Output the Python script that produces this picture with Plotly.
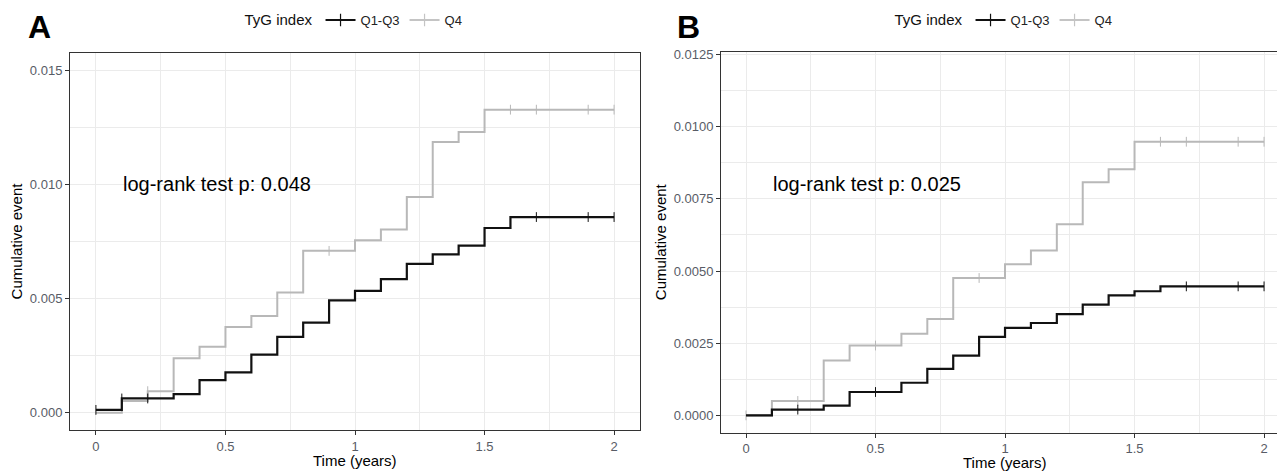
import plotly.graph_objects as go

# ---------------- data ----------------
# Panel A
a_q13_t = [0.0, 0.1, 0.3, 0.4, 0.5, 0.6, 0.7, 0.8, 0.9, 1.0, 1.1, 1.2, 1.3, 1.4, 1.5, 1.6, 2.0]
a_q13_y = [0.00013, 0.00063, 0.00082, 0.00143, 0.00177, 0.00255, 0.00333, 0.00395, 0.00492,
           0.00534, 0.00585, 0.00652, 0.00694, 0.00732, 0.00809, 0.00857, 0.00857]
a_q4_t = [0.0, 0.1, 0.2, 0.3, 0.4, 0.5, 0.6, 0.7, 0.8, 1.0, 1.1, 1.2, 1.3, 1.4, 1.5, 2.0]
a_q4_y = [0.0, 0.00052, 0.00095, 0.00239, 0.00289, 0.00376, 0.00424, 0.00527, 0.00709,
          0.00755, 0.00803, 0.00945, 0.01185, 0.01229, 0.01327, 0.01327]
a_q13_cens_t = [0.0, 0.1, 0.2, 1.7, 1.9, 2.0]
a_q13_cens_y = [0.00013, 0.00063, 0.00063, 0.00857, 0.00857, 0.00857]
a_q4_cens_t = [0.2, 0.9, 1.6, 1.7, 1.9, 2.0]
a_q4_cens_y = [0.00095, 0.00709, 0.01327, 0.01327, 0.01327, 0.01327]

# Panel B
b_q13_t = [0.0, 0.1, 0.3, 0.4, 0.6, 0.7, 0.8, 0.9, 1.0, 1.1, 1.2, 1.3, 1.4, 1.5, 1.6, 2.0]
b_q13_y = [0.0, 0.0002, 0.00034, 0.00081, 0.00113, 0.00161, 0.00207, 0.00272, 0.00303,
           0.0032, 0.00351, 0.00384, 0.00416, 0.0043, 0.00447, 0.00447]
b_q4_t = [0.0, 0.1, 0.3, 0.4, 0.6, 0.7, 0.8, 1.0, 1.1, 1.2, 1.3, 1.4, 1.5, 2.0]
b_q4_y = [0.0, 0.0005, 0.0019, 0.00242, 0.00283, 0.00334, 0.00476, 0.00524, 0.00571,
          0.00662, 0.00808, 0.00853, 0.00948, 0.00948]
b_q13_cens_t = [0.2, 0.5, 1.7, 1.9, 2.0]
b_q13_cens_y = [0.0002, 0.00081, 0.00447, 0.00447, 0.00447]
b_q4_cens_t = [0.0, 0.2, 0.5, 0.9, 1.6, 1.7, 1.9, 2.0]
b_q4_cens_y = [0.0, 0.0005, 0.00242, 0.00476, 0.00948, 0.00948, 0.00948, 0.00948]

group_names = ["Q1-Q3", "Q4"]
legend_title = "TyG index"
panel_labels = ["A", "B"]
pvalue_texts = ["log-rank test p: 0.048", "log-rank test p: 0.025"]
x_title = "Time (years)"
y_title = "Cumulative event"
x_ticks = [0, 0.5, 1, 1.5, 2]
x_ticklabels = ["0", "0.5", "1", "1.5", "2"]

# ---------------- style ----------------
W, H = 1277, 471
BLACK = "#111111"
GREY = "#B8B8B8"
GRID = "#EBEBEB"
TICKCOL = "#585C66"
AXCOL = "#333333"
FONT = "Arial, Liberation Sans, sans-serif"

fig = go.Figure()

def add_panel(xa, ya, legend, t13, y13, t4, y4, c13t, c13y, c4t, c4y):
    fig.add_trace(go.Scatter(x=t4, y=y4, mode="lines", line=dict(color=GREY, width=2, shape="hv"),
                             xaxis=xa, yaxis=ya, showlegend=False, hoverinfo="skip"))
    fig.add_trace(go.Scatter(x=c4t, y=c4y, mode="markers",
                             marker=dict(symbol="line-ns", size=7, line=dict(color=GREY, width=1)),
                             xaxis=xa, yaxis=ya, showlegend=False, hoverinfo="skip"))
    fig.add_trace(go.Scatter(x=t13, y=y13, mode="lines", line=dict(color=BLACK, width=2.2, shape="hv"),
                             xaxis=xa, yaxis=ya, showlegend=False, hoverinfo="skip"))
    fig.add_trace(go.Scatter(x=c13t, y=c13y, mode="markers",
                             marker=dict(symbol="line-ns", size=7, line=dict(color=BLACK, width=1)),
                             xaxis=xa, yaxis=ya, showlegend=False, hoverinfo="skip"))
    for name, col in zip(group_names, [BLACK, "#C4C4C4"]):
        fig.add_trace(go.Scatter(x=[None], y=[None], mode="lines+markers", name=name,
                                 line=dict(color=col, width=2),
                                 marker=dict(symbol="line-ns", size=9, line=dict(color=col, width=1.2)),
                                 xaxis=xa, yaxis=ya, legend=legend, showlegend=True))

add_panel("x", "y", "legend", a_q13_t, a_q13_y, a_q4_t, a_q4_y,
          a_q13_cens_t, a_q13_cens_y, a_q4_cens_t, a_q4_cens_y)
add_panel("x2", "y2", "legend2", b_q13_t, b_q13_y, b_q4_t, b_q4_y,
          b_q13_cens_t, b_q13_cens_y, b_q4_cens_t, b_q4_cens_y)

def xaxis_cfg(domain, rng):
    return dict(domain=domain, range=rng, tickvals=x_ticks, ticktext=x_ticklabels,
                showgrid=True, gridcolor=GRID, gridwidth=1.2, zeroline=False,
                minor=dict(tickvals=[0.25, 0.75, 1.25, 1.75], showgrid=True, gridcolor=GRID, gridwidth=0.8, ticks=""),
                showline=True, linecolor=AXCOL, linewidth=1, mirror=True,
                ticks="outside", ticklen=4, tickcolor=AXCOL, tickwidth=1,
                tickfont=dict(family=FONT, size=13, color=TICKCOL))

def yaxis_cfg(domain, rng, dtick, minor, fmt, anchor, mirror):
    return dict(domain=domain, range=rng, dtick=dtick, tick0=0, tickformat=fmt,
                showgrid=True, gridcolor=GRID, gridwidth=1.2, zeroline=False,
                minor=dict(dtick=minor, tick0=0, showgrid=True, gridcolor=GRID, gridwidth=0.8, ticks=""),
                showline=True, linecolor=AXCOL, linewidth=1, mirror=mirror,
                ticks="outside", ticklen=4, tickcolor=AXCOL, tickwidth=1, anchor=anchor,
                tickfont=dict(family=FONT, size=13, color=TICKCOL),
                title=dict(text=y_title, font=dict(family=FONT, size=15, color="#000"), standoff=3))

legend_common = dict(orientation="h", yanchor="middle", xanchor="center",
                     font=dict(family=FONT, size=13, color="#222"), bgcolor="rgba(0,0,0,0)",
                     itemwidth=30, tracegroupgap=0)

fig.update_layout(
    width=W, height=H, margin=dict(l=0, r=0, t=0, b=0, autoexpand=False),
    paper_bgcolor="white", plot_bgcolor="white",
    font=dict(family=FONT),
    xaxis=xaxis_cfg([70 / W, 640 / W], [-0.1, 2.1]),
    yaxis=yaxis_cfg([1 - 430 / H, 1 - 53 / H], [-0.00075, 0.01575], 0.005, 0.0025, ".3f", "x", True),
    xaxis2=dict(xaxis_cfg([721 / W, 1.0], [-0.0965, 2.05]), anchor="y2"),
    yaxis2=yaxis_cfg([1 - 432.7 / H, 1 - 51.7 / H], [-0.0006, 0.0126], 0.0025, 0.00125, ".4f", "x2", False),
    legend=dict(legend_common, x=355 / W, y=1 - 20 / H,
                title=dict(text=legend_title, side="left", font=dict(family=FONT, size=15, color="#111"))),
    legend2=dict(legend_common, x=1005 / W, y=1 - 20 / H,
                 title=dict(text=legend_title, side="left", font=dict(family=FONT, size=15, color="#111"))),
)

# axis titles (x) centred on the full panel width
fig.add_annotation(text=x_title, xref="x", yref="paper", x=1, y=1 - 460 / H, xanchor="center", yanchor="middle",
                   showarrow=False, font=dict(family=FONT, size=15, color="#000"))
fig.add_annotation(text=x_title, xref="x2", yref="paper", x=1, y=1 - 462 / H, xanchor="center", yanchor="middle",
                   showarrow=False, font=dict(family=FONT, size=15, color="#000"))

fig.add_annotation(text="<b>%s</b>" % panel_labels[0], xref="paper", yref="paper", x=26 / W, y=1 - 27 / H,
                   xanchor="left", yanchor="middle", showarrow=False, font=dict(family=FONT, size=32, color="#000"))
fig.add_annotation(text="<b>%s</b>" % panel_labels[1], xref="paper", yref="paper", x=675 / W, y=1 - 27.5 / H,
                   xanchor="left", yanchor="middle", showarrow=False, font=dict(family=FONT, size=32, color="#000"))
fig.add_annotation(text=pvalue_texts[0], xref="x", yref="y", x=0.095, y=0.0100, xanchor="left", yanchor="middle",
                   showarrow=False, font=dict(family=FONT, size=20, color="#000"))
fig.add_annotation(text=pvalue_texts[1], xref="x2", yref="y2", x=0.095, y=0.0080, xanchor="left", yanchor="middle",
                   showarrow=False, font=dict(family=FONT, size=20, color="#000"))

fig.write_html("out.html", config={"displayModeBar": False},
               post_script="document.body.style.margin='0px';document.body.style.overflow='hidden';")
